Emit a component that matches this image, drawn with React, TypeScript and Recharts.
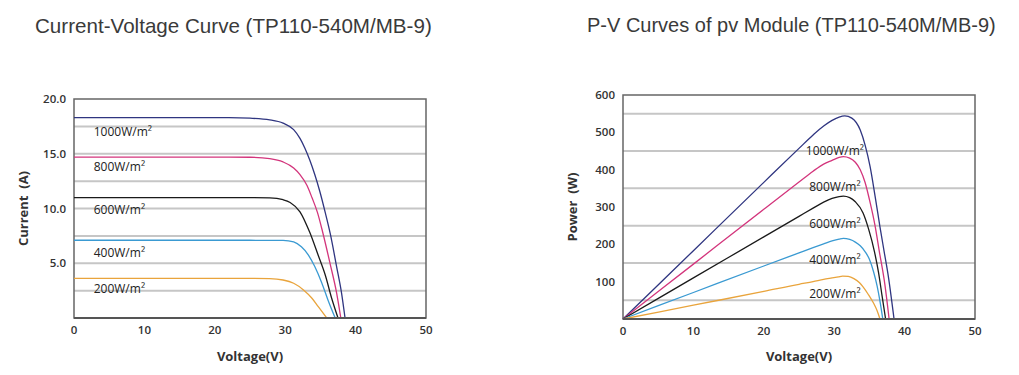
import {
  LineChart,
  Line,
  XAxis,
  YAxis,
  CartesianGrid,
  ReferenceArea,
  ReferenceDot,
  Label,
} from 'recharts';

// voltage axis (shared)
const voltageTicks = [0, 10, 20, 30, 40, 50];

// I-V curves
const iv1000 = [
  { v: 0, i: 18.3 }, { v: 22, i: 18.3 }, { v: 25, i: 18.25 }, { v: 27.8, i: 18.1 },
  { v: 29.7, i: 17.8 }, { v: 31.2, i: 17.2 }, { v: 32.1, i: 16.4 }, { v: 32.8, i: 15.5 },
  { v: 33.5, i: 14.4 }, { v: 34.2, i: 13.1 }, { v: 34.9, i: 11.6 }, { v: 35.7, i: 9.6 },
  { v: 36.4, i: 7.7 }, { v: 37.3, i: 4.7 }, { v: 38, i: 2.3 }, { v: 38.5, i: 0 },
];
const iv800 = [
  { v: 0, i: 14.7 }, { v: 22, i: 14.7 }, { v: 25, i: 14.68 }, { v: 27.8, i: 14.55 },
  { v: 29.7, i: 14.25 }, { v: 31.2, i: 13.7 }, { v: 32.1, i: 13.1 }, { v: 33.1, i: 12.1 },
  { v: 33.8, i: 11.0 }, { v: 34.6, i: 9.6 }, { v: 35.3, i: 7.9 }, { v: 36.4, i: 4.9 },
  { v: 37.3, i: 2.3 }, { v: 37.9, i: 0 },
];
const iv600 = [
  { v: 0, i: 11.0 }, { v: 25, i: 11.0 }, { v: 27.8, i: 10.97 }, { v: 29.7, i: 10.8 },
  { v: 30.7, i: 10.55 }, { v: 32.1, i: 9.7 }, { v: 33.5, i: 7.8 }, { v: 34.7, i: 5.7 },
  { v: 35.7, i: 3.9 }, { v: 36.6, i: 1.8 }, { v: 37.5, i: 0 },
];
const iv400 = [
  { v: 0, i: 7.1 }, { v: 25, i: 7.1 }, { v: 29.7, i: 7.08 }, { v: 31.2, i: 6.95 },
  { v: 32.3, i: 6.5 }, { v: 33.3, i: 5.75 }, { v: 34.2, i: 4.7 }, { v: 35.2, i: 3.2 },
  { v: 36.1, i: 1.6 }, { v: 37.1, i: 0 },
];
const iv200 = [
  { v: 0, i: 3.62 }, { v: 25, i: 3.62 }, { v: 27.8, i: 3.6 }, { v: 29.7, i: 3.47 },
  { v: 31.2, i: 3.17 }, { v: 32.6, i: 2.56 }, { v: 33.8, i: 1.8 }, { v: 34.7, i: 1.03 },
  { v: 35.9, i: 0 },
];

// P-V curves
const pv1000 = [
  { v: 0, p: 0 }, { v: 10, p: 183 }, { v: 20, p: 366 }, { v: 25, p: 457 }, { v: 27, p: 493 },
  { v: 28.5, p: 517 }, { v: 29.7, p: 532 }, { v: 30.7, p: 541 }, { v: 31.5, p: 544 }, { v: 32.5, p: 538 },
  { v: 33.7, p: 506 }, { v: 34.4, p: 465 }, { v: 35.1, p: 408 }, { v: 35.8, p: 330 }, { v: 36.5, p: 247 },
  { v: 37.1, p: 180 }, { v: 37.7, p: 113 }, { v: 38.5, p: 0 },
];
const pv800 = [
  { v: 0, p: 0 }, { v: 10, p: 147 }, { v: 20, p: 294 }, { v: 25, p: 367 }, { v: 27, p: 396 },
  { v: 28.5, p: 415 }, { v: 29.7, p: 425 }, { v: 30.7, p: 433 }, { v: 31.3, p: 435 }, { v: 32.2, p: 431 },
  { v: 33, p: 420 }, { v: 33.7, p: 400 }, { v: 34.4, p: 365 }, { v: 35.1, p: 312 }, { v: 35.8, p: 250 },
  { v: 36.4, p: 182 }, { v: 37.2, p: 92 }, { v: 37.8, p: 0 },
];
const pv600 = [
  { v: 0, p: 0 }, { v: 10, p: 110 }, { v: 20, p: 220 }, { v: 25, p: 275 }, { v: 27, p: 297 },
  { v: 28.5, p: 313 }, { v: 29.7, p: 323 }, { v: 30.7, p: 328 }, { v: 31.3, p: 329 }, { v: 32.2, p: 325 },
  { v: 33, p: 314 }, { v: 34.1, p: 284 }, { v: 34.9, p: 240 }, { v: 35.7, p: 182 }, { v: 36.3, p: 124 },
  { v: 36.8, p: 62 }, { v: 37.3, p: 0 },
];
const pv400 = [
  { v: 0, p: 0 }, { v: 10, p: 71 }, { v: 20, p: 142 }, { v: 25, p: 177 }, { v: 27, p: 191 },
  { v: 28.5, p: 201 }, { v: 29.7, p: 209 }, { v: 30.7, p: 214 }, { v: 31.3, p: 216 }, { v: 32.2, p: 213 },
  { v: 33, p: 206 }, { v: 33.7, p: 196 }, { v: 34.4, p: 180 }, { v: 35, p: 160 }, { v: 35.6, p: 126 },
  { v: 36.1, p: 88 }, { v: 36.5, p: 48 }, { v: 36.9, p: 0 },
];
const pv200 = [
  { v: 0, p: 0 }, { v: 10, p: 37 }, { v: 20, p: 74 }, { v: 25, p: 93 }, { v: 27, p: 100 },
  { v: 28.5, p: 106 }, { v: 29.7, p: 110 }, { v: 30.6, p: 113 }, { v: 31.2, p: 115 }, { v: 32, p: 114 },
  { v: 32.8, p: 108 }, { v: 33.6, p: 97 }, { v: 34.1, p: 86 }, { v: 34.8, p: 67 }, { v: 35.6, p: 42 },
  { v: 36.1, p: 22 }, { v: 36.5, p: 0 },
];

const irradianceLabels = ['1000W/m²', '800W/m²', '600W/m²', '400W/m²', '200W/m²'];
const curveColors = ['#2f3580', '#d3357c', '#1a1a1a', '#3a9ad2', '#e9a43c'];

const currentTicks = [5, 10, 15, 20];
const currentGrid = [2.5, 5, 7.5, 10, 12.5, 15, 17.5];
const powerTicks = [100, 200, 300, 400, 500, 600];
const powerGrid = [50, 100, 150, 200, 250, 300, 350, 400, 450, 500, 550];

// where the irradiance captions sit (data units)
const ivLabelAt = [
  { v: 2.8, i: 17.0 }, { v: 2.8, i: 13.8 }, { v: 2.8, i: 9.9 }, { v: 2.8, i: 6.0 }, { v: 2.8, i: 2.7 },
];
const pvLabelAt = [
  { v: 30.1, p: 450 }, { v: 30.1, p: 354 }, { v: 30.1, p: 256 }, { v: 30.1, p: 158 }, { v: 30.1, p: 67 },
];

const ivSeries = [iv1000, iv800, iv600, iv400, iv200];
const pvSeries = [pv1000, pv800, pv600, pv400, pv200];

const font = '"Open Sans", sans-serif';
const tickStyle = { fill: '#333', fontSize: 11.5, fontWeight: 600, fontFamily: font };
const axisTitle = { fill: '#333', fontSize: 13, fontWeight: 700, fontFamily: font, textAnchor: 'middle' as const };
const captionStyle = { fill: '#222', fontSize: 12, fontFamily: font };
const titleStyle: React.CSSProperties = {
  position: 'absolute',
  top: 14,
  fontFamily: '"Liberation Sans", Arial, sans-serif',
  fontSize: 20,
  lineHeight: '23px',
  color: '#3a3a3a',
  whiteSpace: 'nowrap',
};

export default function App() {
  return (
    <div style={{ position: 'absolute', left: 0, top: 0, width: 1019, height: 375, background: '#fff' }}>
      <div style={{ ...titleStyle, left: 35, fontSize: 20.6 }}>Current-Voltage Curve (TP110-540M/MB-9)</div>
      <div style={{ ...titleStyle, left: 587 }}>P-V Curves of pv Module (TP110-540M/MB-9)</div>

      <div style={{ position: 'absolute', left: 0, top: 0 }}>
        <LineChart width={460} height={375} margin={{ top: 99, right: 34, left: 34, bottom: 0 }}>
          <CartesianGrid vertical={false} horizontalValues={currentGrid} stroke="#c6c6c6" strokeWidth={2} />
          <XAxis
            dataKey="v"
            type="number"
            domain={[0, 50]}
            ticks={voltageTicks}
            tickLine={false}
            axisLine={{ stroke: '#555', strokeWidth: 2 }}
            tick={tickStyle}
            height={57}
          >
            <Label value="Voltage(V)" position="insideBottom" offset={14} style={axisTitle} />
          </XAxis>
          <YAxis
            type="number"
            domain={[0, 20]}
            ticks={currentTicks}
            tickFormatter={(t: number) => t.toFixed(1)}
            tickLine={false}
            axisLine={false}
            tick={tickStyle}
            width={40}
          >
            <Label value={'Current \u00a0(A)'} angle={-90} position="insideLeft" offset={-11} style={axisTitle} />
          </YAxis>
          <ReferenceArea x1={0} x2={50} y1={0} y2={20} fill="none" stroke="#666" strokeWidth={1.5} />
          {ivSeries.map((s, k) => (
            <Line
              key={irradianceLabels[k]}
              data={s}
              dataKey="i"
              type="monotone"
              stroke={curveColors[k]}
              strokeWidth={1.3}
              dot={false}
              isAnimationActive={false}
            />
          ))}
          {ivLabelAt.map((a, k) => (
            <ReferenceDot key={k} x={a.v} y={a.i} r={0} fill="none" stroke="none">
              <Label value={irradianceLabels[k]} position="right" offset={0} style={captionStyle} />
            </ReferenceDot>
          ))}
        </LineChart>
      </div>

      <div style={{ position: 'absolute', left: 540, top: 0 }}>
        <LineChart width={479} height={375} margin={{ top: 95, right: 44, left: 43, bottom: 0 }}>
          <CartesianGrid vertical={false} horizontalValues={powerGrid} stroke="#c6c6c6" strokeWidth={2} />
          <XAxis
            dataKey="v"
            type="number"
            domain={[0, 50]}
            ticks={voltageTicks}
            tickLine={false}
            axisLine={{ stroke: '#555', strokeWidth: 2 }}
            tick={tickStyle}
            height={56}
          >
            <Label value="Voltage(V)" position="insideBottom" offset={14} style={axisTitle} />
          </XAxis>
          <YAxis
            type="number"
            domain={[0, 600]}
            ticks={powerTicks}
            tickLine={false}
            axisLine={false}
            tick={tickStyle}
            width={40}
          >
            <Label value={'Power \u00a0(W)'} angle={-90} position="insideLeft" offset={-11} style={axisTitle} />
          </YAxis>
          <ReferenceArea x1={0} x2={50} y1={0} y2={600} fill="none" stroke="#666" strokeWidth={1.5} />
          {pvSeries.map((s, k) => (
            <Line
              key={irradianceLabels[k]}
              data={s}
              dataKey="p"
              type="monotone"
              stroke={curveColors[k]}
              strokeWidth={1.3}
              dot={false}
              isAnimationActive={false}
            />
          ))}
          {pvLabelAt.map((a, k) => (
            <ReferenceDot key={k} x={a.v} y={a.p} r={0} fill="none" stroke="none">
              <Label value={irradianceLabels[k]} position="center" style={captionStyle} />
            </ReferenceDot>
          ))}
        </LineChart>
      </div>
    </div>
  );
}
